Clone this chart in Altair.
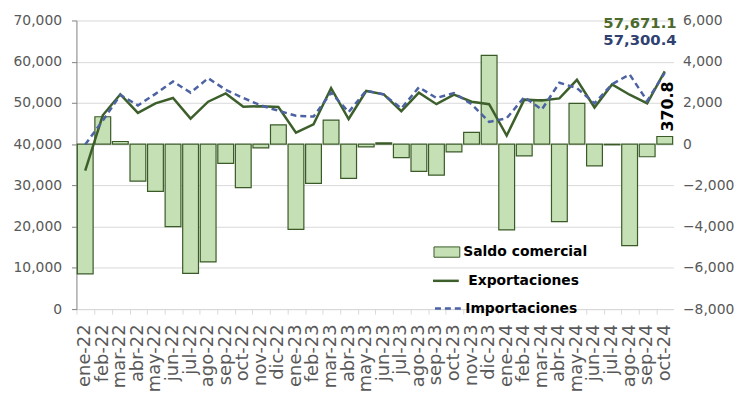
import altair as alt
import pandas as pd

meses = ["ene-22", "feb-22", "mar-22", "abr-22", "may-22", "jun-22", "jul-22", "ago-22",
         "sep-22", "oct-22", "nov-22", "dic-22", "ene-23", "feb-23", "mar-23", "abr-23",
         "may-23", "jun-23", "jul-23", "ago-23", "sep-23", "oct-23", "nov-23", "dic-23",
         "ene-24", "feb-24", "mar-24", "abr-24", "may-24", "jun-24", "jul-24", "ago-24",
         "sep-24", "oct-24"]

exportaciones = [33600, 47000, 52100, 47600, 49900, 51200, 46200, 50300,
                 52300, 49100, 49200, 49000, 42800, 44800, 53600, 46100,
                 52900, 52100, 48000, 52500, 49700, 52000, 50300, 49700,
                 42100, 50800, 50600, 51100, 55600, 48900, 54500, 52000,
                 49900, 57671.1]

importaciones = [39900, 45700, 51950, 49400, 52200, 55200, 52500, 56000,
                 53200, 51200, 49400, 48100, 46900, 46700, 52500, 47800,
                 53000, 52050, 48650, 53800, 51200, 52400, 49700, 45400,
                 46300, 51400, 48400, 54900, 53600, 49900, 54550, 56900,
                 50500, 57300.4]

saldo = [-6290, 1330, 130, -1790, -2290, -4000, -6270, -5710,
         -930, -2110, -180, 940, -4130, -1900, 1170, -1660,
         -130, 60, -650, -1320, -1500, -370, 570, 4310,
         -4160, -570, 2160, -3760, 1980, -1050, -30, -4920,
         -610, 370.8]

left_ticks = [0, 10000, 20000, 30000, 40000, 50000, 60000, 70000]
right_ticks = [-8000, -6000, -4000, -2000, 0, 2000, 4000, 6000]

df = pd.DataFrame({"mes": meses, "expo": exportaciones, "impo": importaciones, "saldo": saldo})

FONT = "DejaVu Sans"
GRAY = "#595959"
C_BAR = "#c5e0b4"
C_BAR_STROKE = "#3a5a28"
C_EXP = "#3d5f2b"
C_IMP = "#4c62a3"
C_EXP_TXT = "#4b6a2c"
C_IMP_TXT = "#2f4170"

x_enc = alt.X("mes:N", sort=meses,
              scale=alt.Scale(paddingInner=0.1, paddingOuter=0.05),
              axis=alt.Axis(title=None, labelAngle=-90, labelFont=FONT, labelFontSize=18,
                            labelColor=GRAY, domainColor="#d9d9d9", tickColor="#d9d9d9",
                            tickSize=5, bandPosition=0, labelPadding=10, grid=False))

y_right = alt.Y("saldo:Q", scale=alt.Scale(domain=[-8000, 6000], nice=False, zero=True),
                axis=alt.Axis(title=None, orient="right", values=right_ticks, format=",.0f",
                              domain=False, ticks=False, grid=False, labelPadding=9,
                              labelFont=FONT, labelFontSize=14, labelColor=GRAY))

y_left = alt.Y("valor:Q", scale=alt.Scale(domain=[0, 70000], nice=False),
               axis=alt.Axis(title=None, orient="left", values=left_ticks, format=",.0f",
                             grid=True, gridColor="#d9d9d9", domainColor="#7f7f7f",
                             tickColor="#7f7f7f", tickSize=5, labelPadding=10,
                             labelFont=FONT, labelFontSize=14, labelColor=GRAY))

legend_common = dict(title=None, orient="none", labelFont=FONT, labelFontSize=14,
                     labelFontWeight="bold", labelColor="black", padding=0)

bars = alt.Chart(df).transform_calculate(serie='"Saldo comercial"').mark_bar(
    stroke=C_BAR_STROKE, strokeWidth=1.2
).encode(
    x=x_enc,
    y=y_right,
    fill=alt.Fill("serie:N", scale=alt.Scale(domain=["Saldo comercial"], range=[C_BAR]),
                  legend=alt.Legend(legendX=360, legendY=220,
                                    symbolType="M-1,-0.4H1V0.4H-1Z", symbolSize=676,
                                    symbolStrokeColor=C_BAR_STROKE, symbolStrokeWidth=1,
                                    labelOffset=3, **legend_common)),
)

bar_label = alt.Chart(df).transform_filter(alt.datum.mes == meses[-1]).mark_text(
    angle=270, align="left", baseline="middle", dx=5, dy=3,
    font=FONT, fontSize=16, fontWeight="bold", color="black"
).encode(x=x_enc, y=y_right, text=alt.Text("saldo:Q", format=",.1f"))

exp_line = alt.Chart(df).transform_calculate(
    serie='"Exportaciones"', valor="datum.expo"
).mark_line(strokeWidth=2.5).encode(
    x=x_enc,
    y=y_left,
    stroke=alt.Stroke("serie:N", scale=alt.Scale(domain=["Exportaciones"], range=[C_EXP]),
                      legend=alt.Legend(legendX=358, legendY=248, symbolType="stroke",
                                        symbolSize=676, symbolStrokeWidth=2.5,
                                        labelOffset=8, **legend_common)),
)

imp_line = alt.Chart(df).transform_calculate(
    serie='"Importaciones"', valor="datum.impo"
).mark_line(strokeWidth=2.5, color=C_IMP).encode(
    x=x_enc,
    y=y_left,
    strokeDash=alt.StrokeDash("serie:N",
                              scale=alt.Scale(domain=["Importaciones"], range=[[6, 4]]),
                              legend=alt.Legend(legendX=360, legendY=276, symbolType="stroke",
                                                symbolSize=676, symbolStrokeWidth=2.5,
                                                symbolStrokeColor=C_IMP,
                                                labelOffset=3, **legend_common)),
)

last = alt.datum.mes == meses[-1]

exp_txt = alt.Chart(df).transform_filter(last).transform_calculate(valor="datum.expo").mark_text(
    align="right", baseline="middle", dx=12, dy=-49,
    font=FONT, fontSize=15, fontWeight="bold", color=C_EXP_TXT
).encode(x=x_enc, y=y_left, text=alt.Text("expo:Q", format=",.1f"))

imp_txt = alt.Chart(df).transform_filter(last).transform_calculate(valor="datum.impo").mark_text(
    align="right", baseline="middle", dx=12, dy=-33,
    font=FONT, fontSize=15, fontWeight="bold", color=C_IMP_TXT
).encode(x=x_enc, y=y_left, text=alt.Text("impo:Q", format=",.1f"))

right_layer = alt.layer(bars, bar_label)
left_layer = alt.layer(exp_line, imp_line, exp_txt, imp_txt)

chart = alt.layer(right_layer, left_layer).resolve_scale(
    y="independent"
).properties(
    width=602, height=291,
    autosize=alt.AutoSizeParams(type="none"),
    padding={"left": 69, "top": 11, "right": 64, "bottom": 82},
).configure_view(stroke=None)

chart.save("out.html", embed_options={"renderer": "svg", "actions": False})
